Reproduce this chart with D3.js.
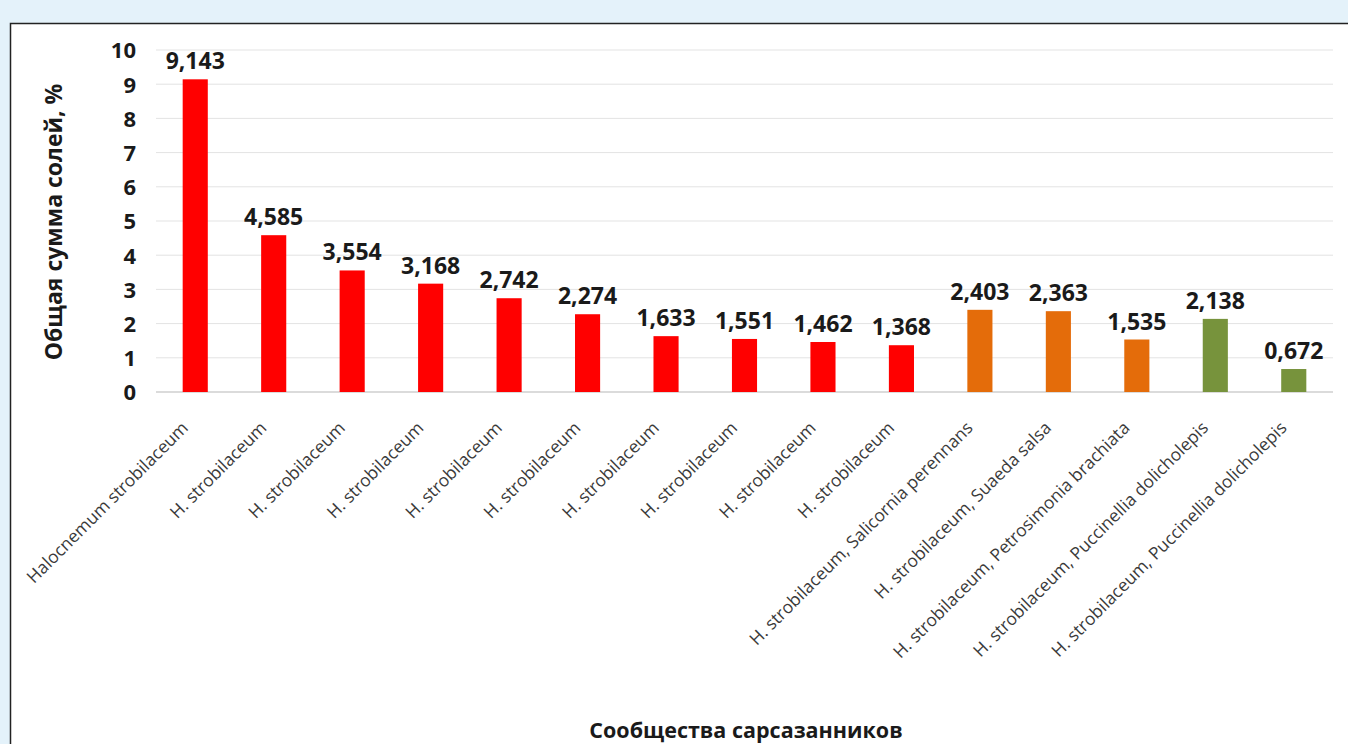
<!DOCTYPE html>
<html>
<head>
<meta charset="utf-8">
<script src="https://cdn.jsdelivr.net/npm/d3@7"></script>
<style>
  body { margin: 0; background: #e4f2fa; }
  svg { display: block; }
</style>
</head>
<body>
<svg id="chart" width="1348" height="744"></svg>
<script>
var categories = [
    "Halocnemum strobilaceum",
    "H. strobilaceum",
    "H. strobilaceum",
    "H. strobilaceum",
    "H. strobilaceum",
    "H. strobilaceum",
    "H. strobilaceum",
    "H. strobilaceum",
    "H. strobilaceum",
    "H. strobilaceum",
    "H. strobilaceum, Salicornia perennans",
    "H. strobilaceum, Suaeda salsa",
    "H. strobilaceum, Petrosimonia brachiata",
    "H. strobilaceum, Puccinellia dolicholepis",
    "H. strobilaceum, Puccinellia dolicholepis"
];
var values = [9.143, 4.585, 3.554, 3.168, 2.742, 2.274, 1.633, 1.551, 1.462, 1.368, 2.403, 2.363, 1.535, 2.138, 0.672];
var groups = ["a", "a", "a", "a", "a", "a", "a", "a", "a", "a", "b", "b", "b", "c", "c"];
var yTicks = [0, 1, 2, 3, 4, 5, 6, 7, 8, 9, 10];

var svg = d3.select("#chart");
var color = d3.scaleOrdinal().domain(["a", "b", "c"]).range(["#ff0000", "#e46c0a", "#77933c"]);
var font = "'Open Sans', 'Liberation Sans', sans-serif";

// white panel with frame
svg.append("rect")
    .attr("x", 10.5).attr("y", 23.5)
    .attr("width", 1360).attr("height", 740)
    .attr("fill", "#fff").attr("stroke", "#222").attr("stroke-width", 1.5);

var x = d3.scaleBand().domain(d3.range(categories.length)).range([156, 1333]).paddingInner(0.68).paddingOuter(0.34);
var y = d3.scaleLinear().domain([0, 10]).range([392, 50]);

var g = svg.append("g");

// gridlines
g.selectAll(".grid").data(yTicks).enter().append("line")
    .attr("x1", 156).attr("x2", 1333)
    .attr("y1", function (d) { return y(d); })
    .attr("y2", function (d) { return y(d); })
    .attr("stroke", function (d) { return d === 0 ? "#cfcfcf" : "#e3e3e3"; })
    .attr("stroke-width", function (d) { return d === 0 ? 1.5 : 1; });

// y tick labels
g.selectAll(".ytick").data(yTicks).enter().append("text")
    .attr("x", 136)
    .attr("y", function (d) { return y(d); })
    .attr("dy", "0.38em")
    .attr("text-anchor", "end")
    .style("font", "bold 22px " + font)
    .attr("fill", "#1a1a1a")
    .text(function (d) { return d; });

// bars
g.selectAll(".bar").data(values).enter().append("rect")
    .attr("x", function (d, i) { return x(i); })
    .attr("y", function (d) { return y(d); })
    .attr("width", x.bandwidth())
    .attr("height", function (d) { return y(0) - y(d); })
    .attr("fill", function (d, i) { return color(groups[i]); });

// value labels
g.selectAll(".val").data(values).enter().append("text")
    .attr("x", function (d, i) { return x(i) + x.bandwidth() / 2; })
    .attr("y", function (d) { return y(d) - 10; })
    .attr("text-anchor", "middle")
    .style("font", "bold 23px " + font)
    .attr("fill", "#1a1a1a")
    .text(function (d) { return d3.format(".3f")(d).replace(".", ","); });

// category labels
g.selectAll(".cat").data(categories).enter().append("text")
    .attr("transform", function (d, i) {
        return "translate(" + (x(i) + x.bandwidth() / 2 - 6) + ",429) rotate(-45)";
    })
    .attr("text-anchor", "end")
    .style("font", "17.4px " + font)
    .attr("fill", "#3a3a3a")
    .text(function (d) { return d; });

// axis titles
svg.append("text")
    .attr("transform", "translate(62,222) rotate(-90)")
    .attr("text-anchor", "middle")
    .style("font", "bold 23px " + font)
    .attr("fill", "#1a1a1a")
    .text("Общая сумма солей, %");

svg.append("text")
    .attr("x", 746).attr("y", 738)
    .attr("text-anchor", "middle")
    .style("font", "bold 21.5px " + font)
    .attr("fill", "#1a1a1a")
    .text("Сообщества сарсазанников");
</script>
</body>
</html>
